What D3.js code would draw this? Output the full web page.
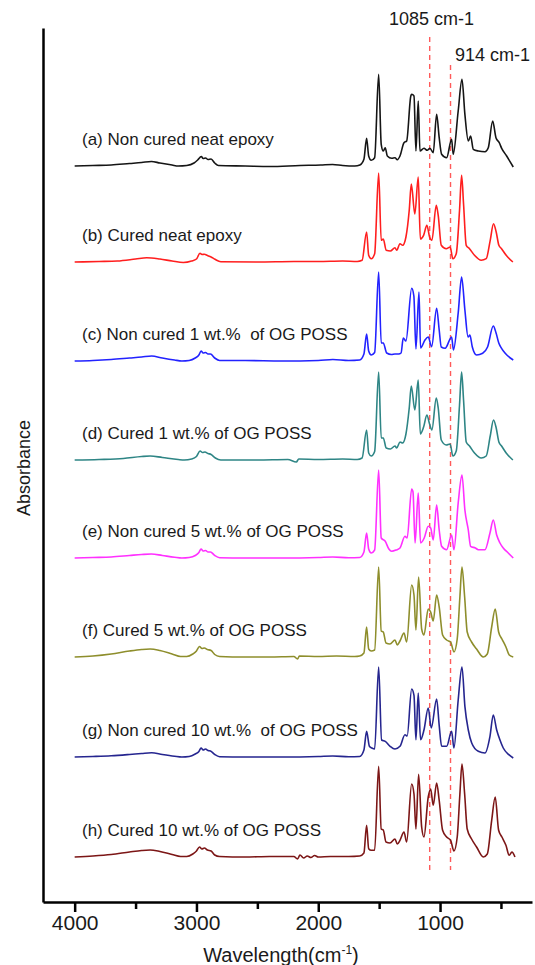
<!DOCTYPE html>
<html>
<head>
<meta charset="utf-8">
<script src="https://cdn.jsdelivr.net/npm/d3@7"></script>
<style>
  body { margin: 0; background: #fff; }
  text { font-family: "Liberation Sans", Arial, sans-serif; fill: #1a1a1a; }
</style>
</head>
<body>
<div id="chart"></div>
<script>
// FTIR spectra of epoxy / OG POSS samples, stacked with vertical offsets

// Spectra: [wavenumber (cm-1), absorbance above the trace baseline]
const specA = [[4000,0],[3850,0.005],[3700,0.01],[3550,0.025],[3450,0.035],[3370,0.045],[3300,0.03],[3200,0.01],[3150,0],[3080,0.005],[3020,0.03],[2990,0.06],[2960,0.095],[2945,0.075],[2925,0.08],[2905,0.065],[2880,0.07],[2850,0.03],[2820,0.005],[2600,0],[2400,-0.005],[2150,0.005],[1980,0.01],[1882,0.015],[1800,0.005],[1700,0],[1658,0.01],[1625,0.067],[1603,0.277],[1586,0.10],[1565,0.057],[1537,0.083],[1504,0.917],[1483,0.217],[1466,0.15],[1450,0.183],[1433,0.10],[1397,0.077],[1370,0.083],[1351,0.063],[1329,0.10],[1296,0.233],[1274,0.25],[1240,0.70],[1233,0.717],[1214,0.70],[1198,0.15],[1179,0.65],[1165,0.15],[1132,0.177],[1105,0.157],[1083,0.177],[1056,0.133],[1028,0.517],[1007,0.283],[987,0.117],[946,0.083],[905,0.267],[892,0.117],[851,0.55],[820,0.867],[796,0.517],[768,0.25],[749,0.30],[727,0.167],[686,0.15],[631,0.143],[604,0.183],[568,0.45],[541,0.283],[514,0.233],[494,0.177],[453,0.10],[399,-0.01]];

const specB = [[4000,0],[3800,0.005],[3650,0.01],[3500,0.03],[3408,0.043],[3300,0.03],[3200,0.01],[3108,-0.005],[3040,0.01],[3000,0.03],[2971,0.087],[2955,0.075],[2935,0.077],[2910,0.065],[2880,0.05],[2848,0.027],[2800,0.003],[2500,0],[2200,0.005],[2000,0.005],[1800,0.01],[1680,0.005],[1640,0.017],[1603,0.30],[1586,0.067],[1565,0.033],[1537,0.083],[1504,0.89],[1483,0.217],[1466,0.23],[1442,0.117],[1408,0.11],[1370,0.143],[1356,0.117],[1329,0.183],[1307,0.167],[1280,0.25],[1253,0.517],[1236,0.78],[1207,0.48],[1179,0.85],[1162,0.23],[1135,0.267],[1108,0.367],[1086,0.25],[1067,0.217],[1031,0.567],[1015,0.467],[990,0.167],[949,0.133],[917,0.15],[895,0.033],[867,0.083],[840,0.517],[823,0.867],[807,0.58],[785,0.167],[758,0.133],[717,0.067],[662,0.017],[621,0.033],[588,0.217],[561,0.383],[539,0.30],[517,0.167],[495,0.133],[457,0.067],[402,0]];

const specC = [[4000,0],[3850,0.005],[3700,0.015],[3550,0.03],[3450,0.04],[3368,0.05],[3280,0.03],[3180,0.01],[3120,0],[3060,0.005],[3010,0.03],[2980,0.06],[2962,0.10],[2945,0.08],[2925,0.085],[2905,0.07],[2885,0.07],[2850,0.03],[2810,0.005],[2600,0.005],[2300,0],[2000,0.005],[1880,0.015],[1750,0.005],[1660,0.01],[1625,0.07],[1603,0.27],[1586,0.10],[1565,0.06],[1537,0.085],[1504,0.89],[1483,0.18],[1466,0.18],[1438,0.08],[1400,0.065],[1370,0.07],[1340,0.07],[1320,0.08],[1302,0.23],[1280,0.2],[1233,0.727],[1215,0.65],[1198,0.12],[1173,0.69],[1160,0.13],[1124,0.21],[1097,0.24],[1069,0.143],[1028,0.527],[1007,0.31],[990,0.14],[958,0.127],[905,0.24],[890,0.11],[851,0.48],[823,0.84],[796,0.51],[770,0.24],[755,0.26],[735,0.14],[700,0.06],[650,0.077],[610,0.14],[563,0.35],[540,0.28],[517,0.177],[495,0.127],[465,0.077],[399,0.01]];

const specD = [[4000,0],[3800,0.005],[3600,0.015],[3450,0.035],[3380,0.04],[3280,0.025],[3150,0.005],[3100,0],[3040,0.01],[3000,0.035],[2970,0.09],[2950,0.075],[2930,0.08],[2905,0.065],[2880,0.055],[2845,0.02],[2800,0],[2500,0],[2250,0.005],[2180,-0.02],[2160,0.01],[2000,0.005],[1800,0.01],[1680,0.005],[1640,0.02],[1603,0.30],[1586,0.07],[1565,0.04],[1537,0.085],[1504,0.88],[1483,0.22],[1466,0.22],[1442,0.12],[1408,0.11],[1370,0.14],[1356,0.12],[1329,0.18],[1307,0.17],[1280,0.26],[1253,0.52],[1236,0.74],[1207,0.5],[1179,0.80],[1162,0.26],[1135,0.33],[1108,0.45],[1086,0.36],[1067,0.30],[1031,0.62],[1015,0.52],[990,0.20],[949,0.15],[917,0.16],[895,0.04],[867,0.09],[840,0.55],[823,0.88],[807,0.60],[785,0.18],[758,0.14],[717,0.07],[662,0.02],[621,0.04],[588,0.24],[561,0.40],[539,0.32],[517,0.18],[495,0.14],[457,0.07],[402,0]];

const specE = [[4000,0],[3850,0.005],[3700,0.01],[3550,0.025],[3450,0.035],[3370,0.04],[3280,0.025],[3180,0.008],[3120,0],[3060,0.005],[3010,0.025],[2980,0.055],[2962,0.09],[2945,0.07],[2925,0.075],[2905,0.06],[2885,0.06],[2850,0.025],[2810,0.003],[2600,0],[2300,0],[2000,0.005],[1880,0.01],[1750,0.003],[1660,0.005],[1625,0.06],[1603,0.25],[1586,0.09],[1565,0.05],[1537,0.08],[1504,0.88],[1483,0.2],[1450,0.167],[1420,0.09],[1397,0.067],[1360,0.08],[1329,0.10],[1288,0.217],[1270,0.2],[1233,0.69],[1222,0.66],[1205,0.15],[1179,0.65],[1160,0.15],[1130,0.2],[1097,0.317],[1077,0.30],[1056,0.18],[1028,0.53],[1007,0.28],[987,0.117],[946,0.083],[905,0.23],[886,0.083],[851,0.55],[820,0.83],[796,0.48],[768,0.28],[749,0.117],[710,0.1],[686,0.083],[631,0.083],[590,0.25],[563,0.38],[535,0.23],[508,0.15],[481,0.10],[440,0.05],[399,0]];

const specF = [[4000,0],[3850,0.01],[3700,0.03],[3550,0.06],[3450,0.075],[3380,0.08],[3300,0.065],[3200,0.03],[3130,0.005],[3080,0.005],[3030,0.03],[3000,0.06],[2975,0.105],[2955,0.085],[2935,0.09],[2910,0.075],[2880,0.065],[2850,0.025],[2810,0.005],[2600,0],[2400,0],[2200,0.005],[2170,-0.02],[2155,0.01],[2000,0.005],[1850,0.01],[1700,0.005],[1660,0.01],[1625,0.04],[1603,0.30],[1586,0.08],[1565,0.06],[1537,0.07],[1504,0.90],[1483,0.26],[1466,0.25],[1444,0.14],[1411,0.13],[1370,0.17],[1351,0.12],[1329,0.16],[1296,0.24],[1274,0.15],[1233,0.72],[1214,0.62],[1198,0.27],[1176,0.80],[1151,0.28],[1132,0.22],[1097,0.48],[1077,0.45],[1056,0.36],[1028,0.62],[1007,0.50],[979,0.22],[946,0.17],[913,0.15],[886,0.05],[859,0.18],[837,0.60],[820,0.90],[798,0.60],[777,0.25],[741,0.15],[700,0.08],[645,0],[612,0.03],[576,0.30],[547,0.48],[519,0.25],[492,0.18],[459,0.10],[432,0.02],[399,0]];

const specG = [[4000,0],[3850,0.005],[3700,0.012],[3550,0.025],[3450,0.035],[3368,0.042],[3280,0.025],[3180,0.008],[3120,0],[3060,0.005],[3010,0.03],[2980,0.055],[2962,0.09],[2945,0.07],[2925,0.08],[2905,0.065],[2885,0.06],[2850,0.025],[2810,0.003],[2600,0],[2300,0],[2000,0.005],[1880,0.01],[1750,0.003],[1660,0.005],[1625,0.07],[1603,0.257],[1580,0.107],[1560,0.09],[1537,0.08],[1504,0.90],[1480,0.17],[1450,0.157],[1410,0.107],[1370,0.08],[1329,0.107],[1288,0.223],[1270,0.21],[1233,0.68],[1214,0.617],[1198,0.173],[1179,0.64],[1160,0.173],[1132,0.27],[1097,0.49],[1072,0.29],[1028,0.58],[1007,0.317],[987,0.107],[946,0.107],[905,0.257],[886,0.09],[851,0.57],[820,0.90],[796,0.507],[768,0.27],[740,0.14],[686,0.057],[631,0.04],[590,0.207],[563,0.42],[535,0.27],[508,0.17],[481,0.09],[435,0.023],[399,-0.01]];

const specH = [[4000,0],[3850,0.01],[3700,0.025],[3550,0.05],[3450,0.065],[3380,0.07],[3300,0.055],[3200,0.025],[3130,0.005],[3080,0.005],[3030,0.03],[3000,0.06],[2975,0.10],[2955,0.08],[2935,0.09],[2910,0.07],[2880,0.06],[2850,0.02],[2810,0.005],[2600,0],[2400,0.005],[2200,0.005],[2170,-0.02],[2150,0.02],[2120,-0.01],[2090,0.01],[2060,-0.005],[2030,0.015],[2000,0],[1900,0.005],[1750,0.005],[1660,0.01],[1625,0.04],[1603,0.317],[1586,0.083],[1565,0.067],[1537,0.067],[1504,0.907],[1483,0.28],[1466,0.27],[1444,0.15],[1411,0.14],[1370,0.18],[1351,0.13],[1329,0.167],[1296,0.25],[1274,0.15],[1233,0.73],[1214,0.63],[1198,0.28],[1176,0.827],[1151,0.30],[1132,0.20],[1097,0.60],[1077,0.68],[1056,0.517],[1028,0.74],[1007,0.567],[979,0.267],[946,0.20],[913,0.167],[886,0.06],[859,0.20],[837,0.63],[820,0.93],[798,0.63],[777,0.28],[741,0.18],[700,0.10],[645,0],[612,0.03],[576,0.367],[547,0.60],[519,0.267],[492,0.20],[459,0.117],[432,0.017],[410,0.05],[385,0]];

// Trace names, vertical offsets of the stacked traces
const sampleLabels = [
    '(a) Non cured neat epoxy',
    '(b) Cured neat epoxy',
    '(c) Non cured 1 wt.%\u00a0 of OG POSS',
    '(d) Cured 1 wt.% of OG POSS',
    '(e) Non cured 5 wt.% of OG POSS',
    '(f) Cured 5 wt.% of OG POSS',
    '(g) Non cured 10 wt.%\u00a0 of OG POSS',
    '(h) Cured 10 wt.% of OG POSS'
];
const offsets = [7.36, 6.40, 5.41, 4.42, 3.44, 2.45, 1.45, 0.45];
const spectra = [specA, specB, specC, specD, specE, specF, specG, specH];

// Marked bands and axis ticks
const markers = [1085, 914];
const majorTicks = [4000, 3000, 2000, 1000];
const minorTicks = [3500, 2500, 1500, 500];

const width = 535;
const height = 965;

const colorScale = d3.scaleOrdinal()
    .domain(d3.range(8))
    .range(['#151515', '#ff1e1e', '#2222ff', '#2e8585', '#ff30ff', '#8e8e2c', '#25258f', '#7c1616']);

const x = d3.scaleLinear().domain([4260, 245]).range([43, 532]);
const y = d3.scaleLinear().domain([0, 8.74]).range([902, 28]);

const svg = d3.select('#chart')
    .append('svg')
    .attr('width', width)
    .attr('height', height);

svg.append('rect').attr('width', width).attr('height', height).attr('fill', '#fff');

// dashed marker lines
svg.selectAll('.marker')
    .data(markers)
    .enter()
    .append('line')
    .attr('class', 'marker')
    .attr('x1', d => x(d))
    .attr('x2', d => x(d))
    .attr('y1', (d, i) => i === 0 ? 37 : 65)
    .attr('y2', 870)
    .attr('stroke', '#ff5a5a')
    .attr('stroke-width', 1.4)
    .attr('stroke-dasharray', '5,4');

svg.selectAll('.marker-label')
    .data(markers)
    .enter()
    .append('text')
    .attr('class', 'marker-label')
    .attr('x', (d, i) => i === 0 ? 389 : 455)
    .attr('y', (d, i) => i === 0 ? 25 : 61)
    .style('font-size', '18px')
    .text(d => d + ' cm-1');

// spectra
const line = d3.line()
    .x(d => x(d[0]))
    .y(d => y(d[1]))
    .curve(d3.curveMonotoneX);

spectra.forEach((spec, i) => {
    svg.append('path')
        .datum(spec.map(p => [p[0], p[1] + offsets[i]]))
        .attr('fill', 'none')
        .attr('stroke', colorScale(i))
        .attr('stroke-width', 1.6)
        .attr('stroke-linejoin', 'round')
        .attr('d', line);

    svg.append('text')
        .attr('x', 82)
        .attr('y', y(offsets[i]) - 21)
        .style('font-size', '17px')
        .text(sampleLabels[i]);
});

// axes
const xAxis = svg.append('g')
    .attr('transform', `translate(0,${y(0)})`)
    .call(d3.axisBottom(x).tickValues(majorTicks).tickSize(10).tickSizeOuter(0).tickFormat(d3.format('d')));
xAxis.select('.domain').attr('stroke-width', 2.5);
xAxis.selectAll('.tick line').attr('stroke-width', 2.5);
xAxis.selectAll('.tick text')
    .style('font-size', '21px')
    .style('font-family', '"Liberation Sans", Arial, sans-serif')
    .attr('fill', '#1a1a1a');

const xMinor = svg.append('g')
    .attr('transform', `translate(0,${y(0)})`)
    .call(d3.axisBottom(x).tickValues(minorTicks).tickSize(7).tickSizeOuter(0).tickFormat(''));
xMinor.select('.domain').remove();
xMinor.selectAll('.tick line').attr('stroke-width', 2.5);

const yAxis = svg.append('g')
    .attr('transform', `translate(${x.range()[0]},0)`)
    .call(d3.axisLeft(y).tickValues([]).tickSizeOuter(0));
yAxis.select('.domain').attr('stroke-width', 2.5);

// axis titles
const xTitle = svg.append('text')
    .attr('x', 281)
    .attr('y', 962)
    .attr('text-anchor', 'middle')
    .style('font-size', '20px');
xTitle.append('tspan').text('Wavelength(cm');
xTitle.append('tspan').attr('dy', -8).style('font-size', '12px').text('-1');
xTitle.append('tspan').attr('dy', 8).text(')');

svg.append('text')
    .attr('transform', 'translate(30,468) rotate(-90)')
    .attr('text-anchor', 'middle')
    .style('font-size', '18px')
    .text('Absorbance');
</script>
</body>
</html>
